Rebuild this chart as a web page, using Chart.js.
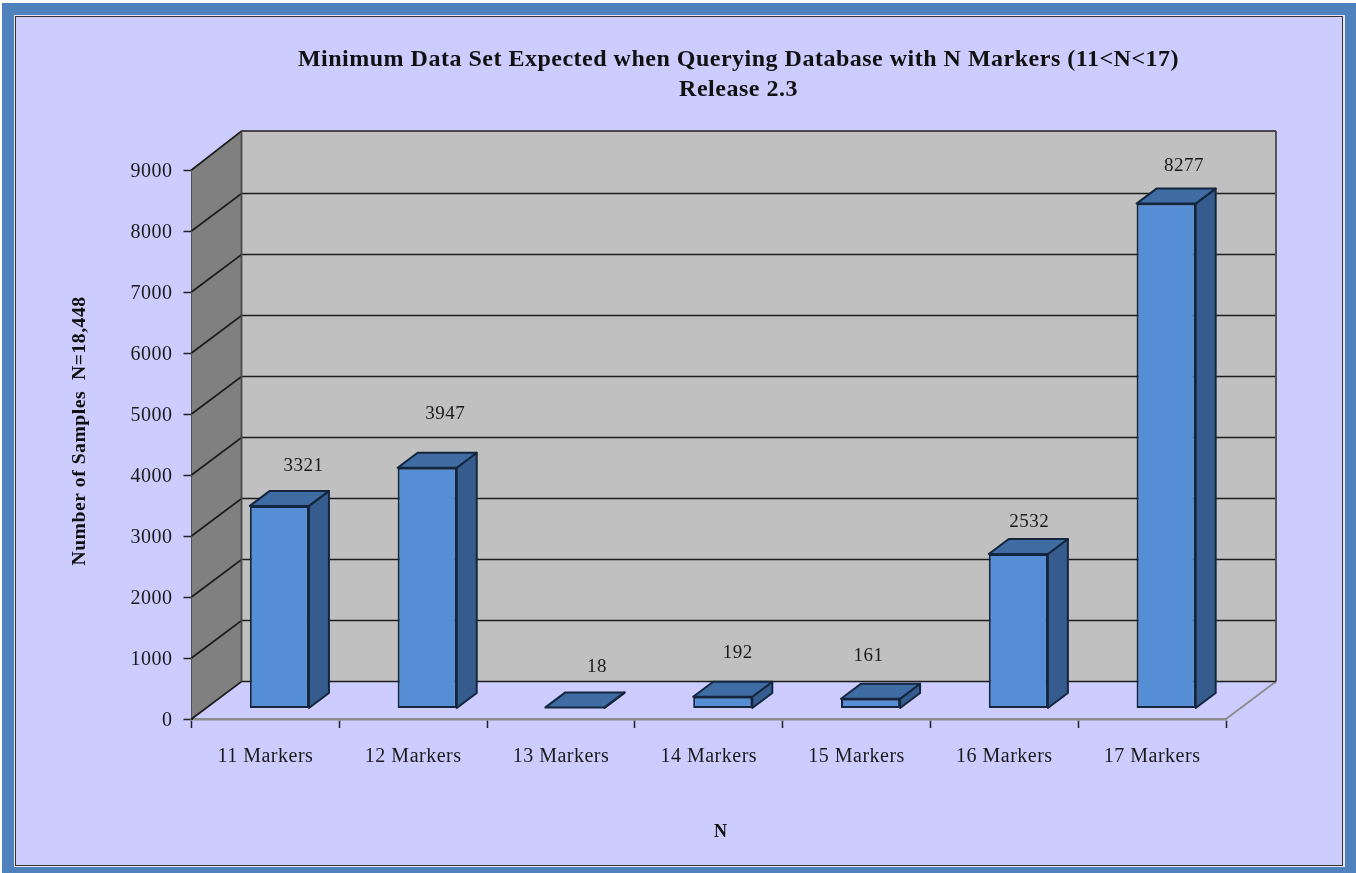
<!DOCTYPE html>
<html>
<head>
<meta charset="utf-8">
<style>
html,body{margin:0;padding:0;background:#fff}
canvas{display:block}
</style>
<script src="https://cdn.jsdelivr.net/npm/chart.js@4"></script>
</head>
<body>
<canvas id="c" width="1356" height="873"></canvas>
<script>
const categories = ['11 Markers','12 Markers','13 Markers','14 Markers','15 Markers','16 Markers','17 Markers'];
const samples = [3321, 3947, 18, 192, 161, 2532, 8277];
const titleLines = ['Minimum Data Set Expected when Querying Database with N Markers (11<N<17)', 'Release 2.3'];
const yAxisTitle = 'Number of Samples  N=18,448';
const xAxisTitle = 'N';
// Hand-placed value labels: offset from the top centre of each bar's front face.
const labelOffsets = [[24,-40],[18,-54],[22,-40],[15,-44],[-2,-43],[11,-32],[18,-38]];

const SERIF = '"Liberation Serif", serif';
const WALL_DX = 50, WALL_DY = -37.5;       // projection of the full floor depth
const BAR_DX = 20, BAR_DY = -15;           // projection of one bar's depth
const BAR_SHIFT_X = 14, BAR_SHIFT_Y = -10.5; // bars stand part way back on the floor

const colors = {
  frame:'#4f81bd', panel:'#ccccff', wall:'#c0c0c0', side:'#808080',
  grid:'#1c1c1c', front:'#558ed5', barSide:'#355c8c', barTop:'#3f6ca3', barEdge:'#14263e'
};

function poly(ctx, pts, fill, stroke, lw){
  ctx.beginPath();
  pts.forEach((p,i)=> i ? ctx.lineTo(p[0],p[1]) : ctx.moveTo(p[0],p[1]));
  ctx.closePath();
  if(fill){ctx.fillStyle=fill;ctx.fill();}
  if(stroke){ctx.strokeStyle=stroke;ctx.lineWidth=lw||1;ctx.lineJoin='round';ctx.stroke();}
}

// Shifts an axis title along its axis without moving the axis itself.
function offsetAxisTitle(scale, dx, dy){
  const drawTitle = scale.drawTitle;
  scale.drawTitle = function(){
    const box = {l:this.left, r:this.right, t:this.top, b:this.bottom};
    this.left += dx; this.right += dx; this.top += dy; this.bottom += dy;
    drawTitle.call(this);
    this.left = box.l; this.right = box.r; this.top = box.t; this.bottom = box.b;
  };
}

// Nudges tick labels down so the digits sit level with their tick marks.
function offsetTickLabels(scale, dy){
  const drawLabels = scale.drawLabels;
  scale.drawLabels = function(area){
    this.ctx.save();
    this.ctx.translate(0,dy);
    drawLabels.call(this,area);
    this.ctx.restore();
  };
}

const framePlugin = {
  id:'frame',
  beforeDraw(chart){
    const {ctx,width,height}=chart;
    ctx.letterSpacing='0.5px'; // the serif face runs narrow at these sizes
    ctx.save();
    ctx.fillStyle='#ffffff'; ctx.fillRect(0,0,width,height);
    ctx.fillStyle=colors.frame; ctx.fillRect(2,3,width-2,height-3);
    ctx.fillStyle='#e8e8f0'; ctx.fillRect(14,15,1331,852);
    ctx.fillStyle='#333333'; ctx.fillRect(15,16,1328,850);
    ctx.fillStyle=colors.panel; ctx.fillRect(16,17,1326,848);
    ctx.restore();
  }
};

const wallsPlugin = {
  id:'walls',
  afterLayout(chart){
    // centre the heading over the whole projected plot, including its depth
    const t=chart.titleBlock;
    t.left=202; t.right=1275;
    if(!chart.$titlesOffset){
      offsetAxisTitle(chart.scales.x,12,0);
      offsetAxisTitle(chart.scales.y,0,-13.5);
      offsetTickLabels(chart.scales.y,1.5);
      chart.$titlesOffset=true;
    }
  },
  beforeDatasetsDraw(chart){
    const {ctx,scales:{x,y}}=chart;
    const l=x.left, r=x.right, y0=y.getPixelForValue(0), yT=y.getPixelForValue(9000);
    const top=yT+WALL_DY-1.5;
    ctx.save();
    // back wall and left side wall
    poly(ctx,[[l+WALL_DX,top],[r+WALL_DX,top],[r+WALL_DX,y0+WALL_DY],[l+WALL_DX,y0+WALL_DY]],colors.wall);
    poly(ctx,[[l,y0],[l+WALL_DX,y0+WALL_DY],[l+WALL_DX,top],[l,yT]],colors.side);
    // floor outline on the open side
    ctx.strokeStyle='#8c8c8c'; ctx.lineWidth=1.8;
    ctx.beginPath(); ctx.moveTo(r,y0); ctx.lineTo(r+WALL_DX,y0+WALL_DY); ctx.stroke();
    // gridlines run across the side wall and along the back wall
    y.ticks.forEach(t=>{
      const py=y.getPixelForValue(t.value);
      const back=t.value===9000 ? top : py+WALL_DY;
      ctx.strokeStyle=colors.grid; ctx.lineWidth=1.7;
      ctx.beginPath();
      ctx.moveTo(l,py); ctx.lineTo(l+WALL_DX,back);
      ctx.lineTo(r+WALL_DX,back);
      ctx.stroke();
    });
    // wall edges
    ctx.strokeStyle='#4a4a4a'; ctx.lineWidth=1.8;
    ctx.beginPath();
    ctx.moveTo(l+WALL_DX,y0+WALL_DY); ctx.lineTo(l+WALL_DX,top);
    ctx.moveTo(r+WALL_DX,y0+WALL_DY); ctx.lineTo(r+WALL_DX,top);
    ctx.stroke();
    ctx.restore();

    // everything the dataset draws sits further back on the floor
    ctx.save();
    ctx.translate(BAR_SHIFT_X,BAR_SHIFT_Y);
    const meta=chart.getDatasetMeta(0);
    meta.data.forEach(bar=>{
      const p=bar.getProps(['x','y','base','width'],true);
      const a=p.x-p.width/2, b=p.x+p.width/2;
      poly(ctx,[[b,p.y],[b+BAR_DX,p.y+BAR_DY],[b+BAR_DX,p.base+BAR_DY],[b,p.base]],colors.barSide,colors.barEdge,2);
      poly(ctx,[[a,p.y],[a+BAR_DX,p.y+BAR_DY],[b+BAR_DX,p.y+BAR_DY],[b,p.y]],colors.barTop,colors.barEdge,2);
    });
  },
  afterDatasetsDraw(chart){
    const {ctx}=chart;
    ctx.restore();
    ctx.save();
    ctx.font='19px '+SERIF;
    ctx.fillStyle='#1a1a1a';
    ctx.textAlign='center'; ctx.textBaseline='middle';
    chart.getDatasetMeta(0).data.forEach((bar,i)=>{
      const p=bar.getProps(['x','y'],true);
      const o=labelOffsets[i];
      ctx.fillText(String(samples[i]),p.x+BAR_SHIFT_X+o[0],p.y+BAR_SHIFT_Y+o[1]);
    });
    ctx.restore();
  }
};

new Chart(document.getElementById('c'),{
  type:'bar',
  data:{labels:categories,datasets:[{
    data:samples,
    backgroundColor:colors.front,
    borderColor:colors.barEdge,
    borderWidth:2,
    borderSkipped:false,
    barPercentage:0.4,
    categoryPercentage:1
  }]},
  plugins:[framePlugin,wallsPlugin],
  options:{
    responsive:false,
    animation:false,
    layout:{padding:{left:60,right:130,top:0,bottom:30}},
    plugins:{
      legend:{display:false},
      tooltip:{enabled:false},
      title:{
        display:true,text:titleLines,fullSize:false,
        color:'#111',font:{family:SERIF,size:24,weight:'bold',lineHeight:1.25},
        padding:{top:45,bottom:65}
      }
    },
    scales:{
      x:{
        afterFit(s){s.height=124;},
        grid:{drawOnChartArea:false,drawTicks:true,tickLength:9,tickColor:'#222',tickWidth:1.5},
        border:{display:true,color:'#8c8c8c',width:2.5},
        ticks:{color:'#1a1a1a',padding:17,maxRotation:0,font:{family:SERIF,size:20}},
        title:{display:true,text:xAxisTitle,color:'#111',padding:{top:0,bottom:0},font:{family:SERIF,size:18,weight:'bold'}}
      },
      y:{
        min:0,max:9000,
        afterFit(s){s.width=131.5;},
        grid:{drawOnChartArea:false,drawTicks:true,tickLength:8,tickColor:'#222',tickWidth:1.5},
        border:{display:true,color:'#222',width:2},
        ticks:{stepSize:1000,color:'#1a1a1a',padding:11,font:{family:SERIF,size:20},
          callback:v=>String(v)},
        title:{display:true,text:yAxisTitle,color:'#111',padding:{top:8,bottom:0},font:{family:SERIF,size:19.7,weight:'bold'}}
      }
    }
  }
});
</script>
</body>
</html>
